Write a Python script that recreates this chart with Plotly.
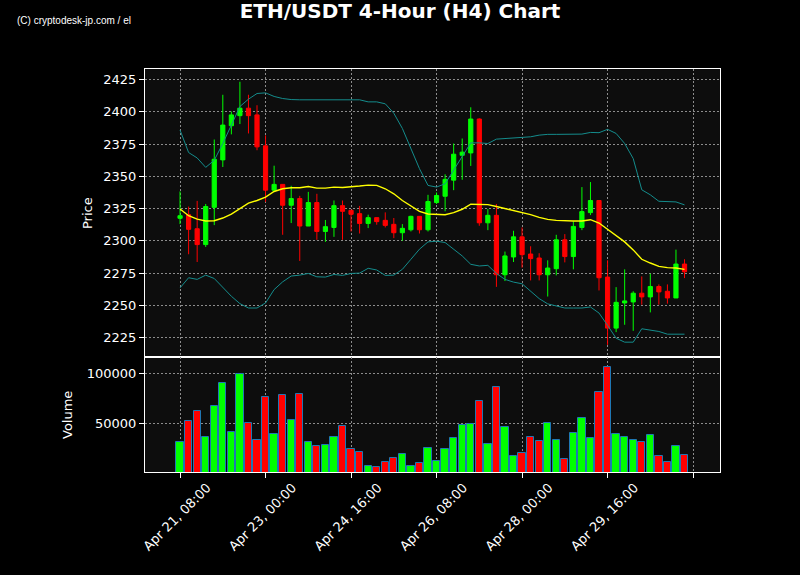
import plotly.graph_objects as go
from plotly.subplots import make_subplots

# ---------------- data ----------------
idx = list(range(60))
opens = [2317.5, 2320.3, 2309.4, 2297.1, 2326.0, 2362.8, 2389.3, 2397.1, 2402.9, 2397.7,
         2373.7, 2339.3, 2343.8, 2327.6, 2332.8, 2311.5, 2329.7, 2307.3, 2310.4, 2327.3,
         2323.7, 2321.1, 2313.5, 2318.0, 2315.9, 2312.8, 2306.3, 2308.6, 2319.0, 2308.6,
         2329.7, 2334.6, 2347.1, 2366.4, 2368.2, 2394.5, 2314.0, 2319.8, 2273.7, 2287.5,
         2303.1, 2289.8, 2286.7, 2273.7, 2278.4, 2300.8, 2287.8, 2310.4, 2321.9, 2331.3,
         2271.9, 2232.3, 2251.8, 2252.6, 2259.4, 2256.5, 2264.6, 2260.9, 2255.7, 2282.0]
highs = [2338.3, 2326.6, 2331.0, 2328.6, 2378.6, 2413.3, 2400.3, 2423.4, 2413.3, 2405.2,
         2381.8, 2358.3, 2344.0, 2342.7, 2334.9, 2338.0, 2336.5, 2316.2, 2331.3, 2331.3,
         2323.9, 2327.1, 2320.3, 2318.2, 2322.1, 2317.7, 2313.0, 2319.5, 2319.3, 2335.7,
         2337.5, 2351.6, 2375.5, 2379.4, 2403.6, 2395.0, 2324.7, 2328.6, 2291.7, 2307.8,
         2310.4, 2295.8, 2290.4, 2284.9, 2304.7, 2305.2, 2315.1, 2341.7, 2345.6, 2331.5,
         2284.9, 2264.1, 2277.9, 2260.9, 2272.4, 2274.5, 2266.2, 2266.2, 2293.2, 2285.7]
lows = [2313.0, 2289.6, 2283.6, 2295.3, 2312.2, 2357.3, 2382.6, 2390.6, 2383.3, 2370.3,
        2330.2, 2338.5, 2304.7, 2313.8, 2284.4, 2311.5, 2300.8, 2299.2, 2303.1, 2300.8,
        2307.3, 2305.7, 2309.9, 2312.5, 2310.4, 2302.1, 2300.0, 2307.3, 2305.7, 2307.3,
        2328.6, 2322.9, 2339.3, 2347.4, 2358.1, 2311.7, 2308.3, 2264.3, 2268.8, 2283.6,
        2279.2, 2269.3, 2269.3, 2256.8, 2273.2, 2283.3, 2277.9, 2308.3, 2320.0, 2261.5,
        2219.3, 2229.2, 2234.9, 2230.2, 2250.5, 2244.5, 2250.5, 2251.3, 2255.7, 2271.1]
closes = [2319.5, 2308.9, 2297.1, 2326.6, 2363.3, 2389.8, 2397.7, 2402.9, 2397.1, 2372.9,
          2339.3, 2343.8, 2327.6, 2332.8, 2311.5, 2329.7, 2307.3, 2311.0, 2327.3, 2322.9,
          2320.6, 2313.5, 2318.0, 2314.9, 2312.0, 2306.3, 2309.7, 2319.0, 2308.6, 2330.5,
          2335.2, 2347.7, 2367.2, 2368.8, 2394.5, 2314.0, 2319.8, 2273.7, 2288.3, 2303.1,
          2289.3, 2286.2, 2273.7, 2278.9, 2300.8, 2287.8, 2311.2, 2322.7, 2331.3, 2271.4,
          2232.3, 2252.3, 2253.4, 2259.4, 2256.5, 2264.6, 2260.4, 2255.7, 2282.0, 2276.0]
volumes = [31000, 52000, 62000, 36000, 67000, 90000, 41000, 99000, 50000, 33000,
           76000, 39000, 78000, 53000, 79000, 31000, 27000, 28000, 36000, 47000,
           24000, 21000, 7000, 6000, 11000, 15000, 19000, 7000, 10000, 25000,
           12000, 24000, 35000, 48000, 49000, 72000, 29000, 86000, 46000, 17000,
           20000, 36000, 32000, 50000, 33000, 14000, 40000, 55000, 35000, 81000,
           106000, 39000, 36000, 33000, 31000, 38000, 17000, 11000, 27000, 18000]
ma = [2324.7, 2319.5, 2316.9, 2315.4, 2315.6, 2317.7, 2320.8, 2325.3, 2329.2, 2331.3,
      2333.9, 2338.3, 2340.4, 2341.2, 2341.2, 2342.2, 2340.9, 2340.9, 2341.7, 2341.4,
      2342.2, 2342.5, 2343.2, 2343.0, 2340.4, 2336.5, 2331.3, 2326.8, 2322.9, 2320.8,
      2320.3, 2320.3, 2321.9, 2324.5, 2328.4, 2328.4, 2328.1, 2326.6, 2325.0, 2323.9,
      2322.1, 2320.3, 2318.2, 2316.7, 2315.9, 2315.4, 2315.4, 2315.4, 2316.4, 2313.8,
      2309.1, 2304.4, 2299.2, 2293.0, 2285.7, 2282.8, 2280.2, 2279.2, 2278.9, 2277.9]
upper = [2385.9, 2368.5, 2364.3, 2357.0, 2362.5, 2375.5, 2389.8, 2404.2, 2409.9, 2414.3,
         2414.8, 2412.0, 2410.4, 2409.6, 2409.4, 2409.4, 2409.6, 2409.4, 2409.4, 2409.4,
         2409.4, 2409.4, 2407.8, 2407.8, 2406.3, 2399.0, 2387.2, 2371.6, 2356.0, 2343.0,
         2341.7, 2344.3, 2354.7, 2365.1, 2376.0, 2376.0, 2375.5, 2378.9, 2379.4, 2379.7,
         2379.9, 2380.7, 2382.0, 2382.6, 2382.6, 2382.6, 2382.6, 2382.8, 2384.1, 2383.9,
         2386.5, 2383.3, 2375.5, 2363.8, 2339.6, 2335.7, 2330.7, 2330.7, 2330.2, 2327.9]
lower = [2263.5, 2271.4, 2270.1, 2273.4, 2270.8, 2264.1, 2257.0, 2251.3, 2247.9, 2247.9,
         2251.8, 2262.2, 2268.2, 2272.7, 2273.4, 2274.7, 2272.1, 2271.9, 2273.9, 2273.2,
         2274.7, 2275.0, 2278.7, 2277.4, 2273.2, 2273.4, 2277.9, 2285.7, 2293.5, 2299.2,
         2299.7, 2298.7, 2293.5, 2288.3, 2281.8, 2280.5, 2281.0, 2274.7, 2270.1, 2268.0,
         2266.7, 2261.0, 2255.2, 2251.1, 2249.5, 2247.9, 2247.9, 2247.9, 2248.7, 2244.0,
         2234.4, 2224.5, 2221.4, 2221.4, 2231.8, 2230.7, 2229.7, 2227.6, 2227.6, 2227.6]
tick_positions = [0, 10, 20, 30, 40, 50, 60]
tick_labels = ["Apr 21, 08:00", "Apr 23, 00:00", "Apr 24, 16:00", "Apr 26, 08:00",
               "Apr 28, 00:00", "Apr 29, 16:00", ""]

UP = "#00ff00"
DOWN = "#ff0000"
vol_colors = [UP if c >= o else DOWN for o, c in zip(opens, closes)]

# ---------------- figure ----------------
fig = make_subplots(rows=2, cols=1, shared_xaxes=True, vertical_spacing=0,
                    row_heights=[288 / 403, 115 / 403])

fig.add_trace(go.Scatter(x=idx, y=upper, mode="lines",
                         line=dict(color="#148c8c", width=1), hoverinfo="skip",
                         showlegend=False), row=1, col=1)
fig.add_trace(go.Scatter(x=idx, y=lower, mode="lines",
                         line=dict(color="#148c8c", width=1), hoverinfo="skip",
                         showlegend=False), row=1, col=1)
fig.add_trace(go.Candlestick(x=idx, open=opens, high=highs, low=lows, close=closes,
                             increasing=dict(line=dict(color=UP, width=1), fillcolor=UP),
                             decreasing=dict(line=dict(color=DOWN, width=1), fillcolor=DOWN),
                             whiskerwidth=0, showlegend=False), row=1, col=1)
fig.add_trace(go.Scatter(x=idx, y=ma, mode="lines",
                         line=dict(color="#ffff00", width=1.4), hoverinfo="skip",
                         showlegend=False), row=1, col=1)

fig.add_trace(go.Bar(x=idx, y=volumes, width=0.85,
                     marker=dict(color=vol_colors, line=dict(color="#1f77b4", width=1)),
                     showlegend=False), row=2, col=1)

FONT = "DejaVu Sans"
grid = dict(showgrid=True, gridcolor="#8c8c8c", griddash="2px,2px", gridwidth=1,
            showline=True, linecolor="white", linewidth=1, mirror=True, zeroline=False)

fig.update_layout(
    width=800, height=575,
    paper_bgcolor="#000000", plot_bgcolor="#0d0d0d",
    margin=dict(l=145, r=80, t=69, b=103),
    font=dict(family=FONT, color="white", size=13),
    title=dict(text="<b>ETH/USDT 4-Hour (H4) Chart</b>", x=0.5, xref="container",
               y=1 - 11 / 575, yref="container", yanchor="middle", xanchor="center",
               font=dict(family=FONT, size=20, color="white")),
    bargap=0,
    showlegend=False,
)

fig.update_xaxes(range=[-4.1, 63.15], tickmode="array", tickvals=tick_positions,
                 ticktext=tick_labels, rangeslider=dict(visible=False), **grid)
fig.update_xaxes(showticklabels=False, ticks="", row=1, col=1)
fig.update_xaxes(ticks="outside", ticklen=5, tickcolor="white", tickangle=-45,
                 ticklabelshift=27, ticklabelstandoff=-3,
                 tickfont=dict(family=FONT, size=13, color="white"), row=2, col=1)

fig.update_yaxes(range=[2209.9, 2433.3], tickmode="array",
                 tickvals=[2225, 2250, 2275, 2300, 2325, 2350, 2375, 2400, 2425],
                 ticks="outside", ticklen=5, tickcolor="white",
                 tickfont=dict(family=FONT, size=13, color="white"), row=1, col=1, **grid)
fig.update_yaxes(range=[1000, 116500], tickmode="array", tickvals=[50000, 100000],
                 ticktext=["50000", "100000"],
                 ticks="outside", ticklen=5, tickcolor="white",
                 tickfont=dict(family=FONT, size=13, color="white"), row=2, col=1, **grid)

# axis titles & watermark
pw, ph = 575.0, 403.0
fig.add_annotation(text="Price", x=(87 - 145) / pw, y=(472 - 213) / ph, xref="paper",
                   yref="paper", textangle=-90, showarrow=False,
                   font=dict(family=FONT, size=13, color="white"),
                   xanchor="center", yanchor="middle")
fig.add_annotation(text="Volume", x=(67 - 145) / pw, y=(472 - 415) / ph, xref="paper",
                   yref="paper", textangle=-90, showarrow=False,
                   font=dict(family=FONT, size=13, color="white"),
                   xanchor="center", yanchor="middle")
fig.add_annotation(text="(C) cryptodesk-jp.com / el", x=(15 - 145) / pw, y=(472 - 21) / ph,
                   xref="paper", yref="paper", showarrow=False,
                   font=dict(family="Liberation Sans", size=10, color="white"),
                   xanchor="left", yanchor="middle")

fig.write_html("out.html", config={"displayModeBar": False},
               post_script="document.body.style.margin='0';document.body.style.padding='0';")
